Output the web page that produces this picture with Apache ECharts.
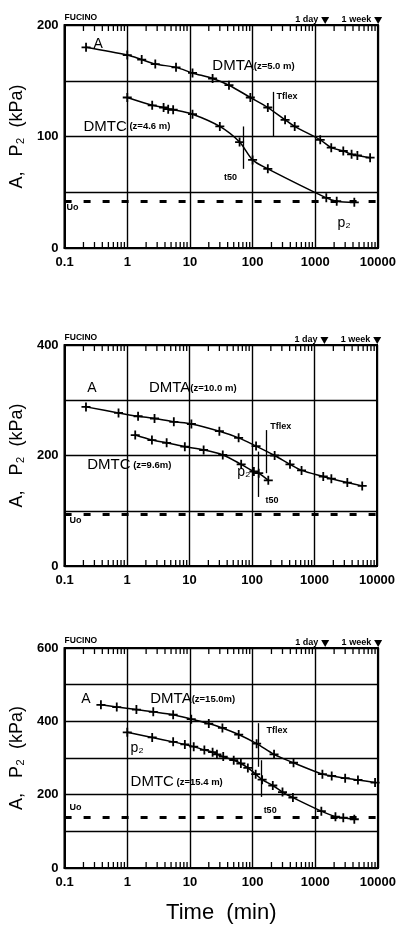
<!DOCTYPE html>
<html><head><meta charset="utf-8">
<script src="https://cdn.jsdelivr.net/npm/echarts/dist/echarts.min.js"></script>
<style>html,body{margin:0;padding:0;background:#fff}#c{width:399px;height:931px}</style>
</head><body><div id="c"></div>
<script>
// ---------- data ----------
const timeTickLabels = ['0.1', '1', '10', '100', '1000', '10000'];
const dayWeekTimes = [1440, 10080];
const dayWeekLabels = ['1 day', '1 week'];

// Panel 1 : DMTA z=5.0 m / DMTC z=4.6 m
const p1DmtaT = [0.22, 1, 1.7, 2.8, 6, 11, 23, 42, 92, 175, 330, 470, 1200, 1800, 2800, 3800, 4700, 7500];
const p1DmtaV = [180, 173, 169, 165, 162, 157, 152, 146, 135, 126, 115, 109, 97, 90, 87, 84, 83, 81];
const p1DmtcT = [1, 2.5, 3.8, 4.5, 5.4, 11, 30, 62, 100, 175, 1500, 2200, 4200];
const p1DmtcV = [135, 128, 126, 124.5, 124, 120, 109, 95, 79, 71, 45, 42, 41];
const p1Uo = 42;
const p1Tflex = [215, 140, 100];
const p1T50 = [70, 109, 71];

// Panel 2 : DMTA z=10.0 m / DMTC z=9.6 m
const p2DmtaT = [0.22, 0.73, 1.5, 2.75, 5.6, 10.7, 30, 61, 116, 230, 405, 620, 1380, 1860, 3350, 5800];
const p2DmtaV = [288, 277, 271, 267, 261, 257, 244, 232, 217, 200, 184, 173, 162, 158, 151, 145];
const p2DmtcT = [1.35, 2.5, 4.3, 8.4, 16.8, 34, 67, 107, 128, 182];
const p2DmtcV = [237, 228, 223, 216, 210, 201, 184, 171, 168, 155];
const p2Uo = 94;
const p2Tflex = [168, 246, 168];
const p2T50 = [128, 207, 125];

// Panel 3 : DMTA z=15.0 m / DMTC z=15.4 m
const p3DmtaT = [0.38, 0.68, 1.4, 2.6, 5.4, 10.5, 20, 33, 60, 116, 220, 450, 1300, 1830, 3000, 4800, 9000];
const p3DmtaV = [445, 439, 432, 426, 418, 406, 394, 382, 364, 339, 310, 287, 256, 251, 245, 240, 233];
const p3DmtcT = [1, 2.5, 5.4, 8.3, 11.5, 17, 23, 27, 34, 50, 65, 84, 112, 142, 210, 300, 440, 1250, 2100, 2800, 4200];
const p3DmtcV = [370, 356, 344, 337, 331, 322, 316, 310, 304, 294, 285, 273, 256, 241, 225, 207, 192, 155, 140, 137, 133];
const p3Uo = 138;
const p3Tflex = [124, 395, 276];
const p3T50 = [140, 294, 194];

// text notes: [text, time, value]  (left-middle anchor)
const p1Notes = [['{a|A}', 0.29, 183], ['{b|DMTA}{s|(z=5.0 m)}', 22.8, 163], ['{b|DMTC}{s| (z=4.6 m)}', 0.2, 109],
  ['{t|Tflex}', 240, 136], ['{t|t50}', 35, 63], ['{u|Uo}', 0.107, 36], ['{a|p₂}', 2260, 22]];
const p2Notes = [['{a|A}', 0.23, 322], ['{b|DMTA}{s|(z=10.0 m)}', 2.24, 322], ['{b|DMTC}{s| (z=9.6m)}', 0.23, 183],
  ['{t|Tflex}', 195, 253], ['{t|t50}', 164, 119], ['{u|Uo}', 0.12, 83], ['{a|p₂}', 58, 170]];
const p3Notes = [['{a|A}', 0.185, 461], ['{b|DMTA}{s|(z=15.0m)}', 2.33, 461], ['{b|DMTC}{s| (z=15.4 m)}', 1.13, 234],
  ['{t|Tflex}', 167, 374], ['{t|t50}', 150, 158], ['{u|Uo}', 0.12, 166], ['{a|p₂}', 1.13, 327]];

// ---------- build ----------
const FONT = '"Liberation Sans", Arial, sans-serif';
const PLUS = 'path://M4,0h2v4h4v2h-4v4h-2v-4h-4v-2h4z';
const minorT = [];
[0.1, 1, 10, 100, 1000].forEach(d => { for (let m = 2; m <= 9; m++) minorT.push(+(d * m).toPrecision(3)); });

const panels = [
  { grid: { left: 63, top: 25, width: 318, height: 223 }, yMax: 200, yStep: 50, yLab: 100, nameGap: 38,
    dmta: [p1DmtaT, p1DmtaV], dmtc: [p1DmtcT, p1DmtcV], uo: p1Uo, tflex: p1Tflex, t50: p1T50, notes: p1Notes },
  { grid: { left: 55, top: 345, width: 322, height: 221 }, yMax: 400, yStep: 100, yLab: 200, nameGap: 30,
    dmta: [p2DmtaT, p2DmtaV], dmtc: [p2DmtcT, p2DmtcV], uo: p2Uo, tflex: p2Tflex, t50: p2T50, notes: p2Notes },
  { grid: { left: 60, top: 648, width: 318, height: 220 }, yMax: 600, yStep: 100, yLab: 200, nameGap: 35,
    dmta: [p3DmtaT, p3DmtaV], dmtc: [p3DmtcT, p3DmtcV], uo: p3Uo, tflex: p3Tflex, t50: p3T50, notes: p3Notes }
];

const zip = (a, b) => a.map((x, i) => [x, b[i]]);
const grids = [], xAxes = [], yAxes = [], series = [];
const noStroke = { textBorderWidth: 0, textBorderColor: 'transparent', textShadowBlur: 0 };
const rich = {
  a: Object.assign({ fontSize: 14, fontFamily: FONT, color: '#000' }, noStroke),
  b: Object.assign({ fontSize: 15, fontFamily: FONT, color: '#000' }, noStroke),
  s: Object.assign({ fontSize: 9.5, fontWeight: 'bold', fontFamily: FONT, color: '#000' }, noStroke),
  t: Object.assign({ fontSize: 9, fontWeight: 'bold', fontFamily: FONT, color: '#000' }, noStroke),
  u: Object.assign({ fontSize: 9, fontWeight: 'bold', fontFamily: FONT, color: '#000' }, noStroke)
};
const solid = { color: '#000', opacity: 1 };

panels.forEach((p, i) => {
  grids.push(Object.assign({ show: true, borderColor: '#000', borderWidth: 2, backgroundColor: '#fff' }, p.grid));
  xAxes.push({
    type: 'log', logBase: 10, min: 0.1, max: 10000, gridIndex: i,
    axisLine: { show: true, lineStyle: { color: '#000', width: 2 } },
    axisTick: { show: false },
    splitLine: { show: true, lineStyle: { color: '#000', width: 1.4 } },
    axisLabel: { color: '#000', fontSize: 13, fontWeight: 'bold', fontFamily: FONT, margin: 8,
      formatter: v => { const k = Math.round(Math.log10(v)) + 1; return timeTickLabels[k] || ''; } },
    name: i === 2 ? 'Time  (min)' : '', nameLocation: 'middle', nameGap: 34,
    nameTextStyle: { fontSize: 22, color: '#000', fontFamily: FONT }
  });
  yAxes.push({
    type: 'value', min: 0, max: p.yMax, interval: p.yStep, gridIndex: i,
    axisLine: { show: true, lineStyle: { color: '#000', width: 2 } },
    axisTick: { show: false },
    splitLine: { show: true, lineStyle: { color: '#000', width: 1.4 } },
    axisLabel: { color: '#000', fontSize: 13, fontWeight: 'bold', fontFamily: FONT, margin: 6,
      formatter: v => (v % p.yLab === 0 ? String(v) : '') },
    name: 'A,   P₂  (kPa)', nameLocation: 'middle', nameGap: p.nameGap,
    nameTextStyle: { fontSize: 18, color: '#000', fontFamily: FONT }
  });
  const lineCommon = {
    type: 'line', xAxisIndex: i, yAxisIndex: i, smooth: 0.3, symbol: PLUS, symbolSize: 9,
    lineStyle: { color: '#000', width: 1.5 }, itemStyle: solid, z: 5, silent: true
  };
  series.push(Object.assign({}, lineCommon, {
    name: 'DMTA' + i, data: zip(p.dmta[0], p.dmta[1]),
    markLine: {
      silent: true, symbol: 'none', label: { show: false },
      data: [
        [{ coord: [p.tflex[0], p.tflex[1]] }, { coord: [p.tflex[0], p.tflex[2]] }],
        [{ coord: [p.t50[0], p.t50[1]] }, { coord: [p.t50[0], p.t50[2]] }]
      ],
      lineStyle: { color: '#000', width: 1.3, type: 'solid', opacity: 1 }
    }
  }));
  series.push(Object.assign({}, lineCommon, {
    name: 'DMTC' + i, data: zip(p.dmtc[0], p.dmtc[1]),
    markLine: {
      silent: true, symbol: 'none', label: { show: false },
      data: [{ yAxis: p.uo }],
      lineStyle: { color: '#000', width: 3.2, type: [7, 12], opacity: 1 }
    }
  }));
  // notes
  series.push({
    type: 'scatter', xAxisIndex: i, yAxisIndex: i, symbolSize: 0, silent: true, clip: false, z: 8,
    itemStyle: solid,
    data: p.notes.map(n => ({ value: [n[1], n[2]], label: { formatter: n[0] } })),
    label: Object.assign({ show: true, position: 'inside', align: 'left', verticalAlign: 'middle', rich: rich, color: '#000' }, noStroke)
  });
  // minor ticks bottom & top
  series.push({
    type: 'scatter', xAxisIndex: i, yAxisIndex: i, silent: true, clip: false, z: 6,
    symbol: 'rect', symbolSize: [1.3, 5], symbolOffset: [0, -3.5], itemStyle: solid,
    data: minorT.map(t => [t, 0])
  });
  series.push({
    type: 'scatter', xAxisIndex: i, yAxisIndex: i, silent: true, clip: false, z: 6,
    symbol: 'rect', symbolSize: [1.3, 5], symbolOffset: [0, 3.5], itemStyle: solid,
    data: minorT.map(t => [t, p.yMax])
  });
  // 1 day / 1 week markers
  series.push({
    type: 'scatter', xAxisIndex: i, yAxisIndex: i, silent: true, clip: false, z: 7,
    symbol: 'triangle', symbolRotate: 180, symbolSize: [8, 7], symbolOffset: [0, -4.5], itemStyle: solid,
    data: dayWeekTimes.map((t, k) => ({ value: [t, p.yMax], label: { formatter: dayWeekLabels[k] } })),
    label: Object.assign({ show: true, position: 'left', distance: 3, offset: [0, -1], fontSize: 9, fontWeight: 'bold', fontFamily: FONT, color: '#000' }, noStroke)
  });
  // FUCINO
  series.push({
    type: 'scatter', xAxisIndex: i, yAxisIndex: i, silent: true, clip: false, symbolSize: 0,
    itemStyle: solid,
    data: [{ value: [0.1, p.yMax], label: { formatter: 'FUCINO' } }],
    label: Object.assign({ show: true, position: 'inside', align: 'left', verticalAlign: 'bottom', offset: [0, -3],
      fontSize: 8.5, fontWeight: 'bold', fontFamily: FONT, color: '#000' }, noStroke)
  });
});

const chart = echarts.init(document.getElementById('c'), null, { renderer: 'canvas' });
chart.setOption({
  animation: false, backgroundColor: '#fff',
  grid: grids, xAxis: xAxes, yAxis: yAxes, series: series
});
</script></body></html>
